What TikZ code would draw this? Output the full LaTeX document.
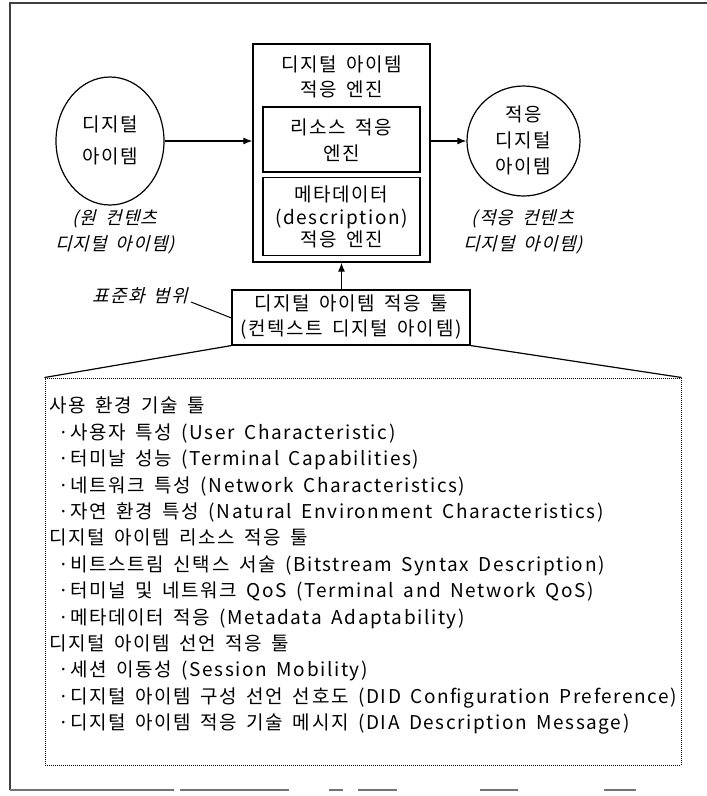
\documentclass[tikz,border=0pt]{standalone}
\usepackage{fontspec}
\usetikzlibrary{shapes.geometric,arrows.meta}
\newfontfamily\kf[LetterSpace=8.5]{Noto Sans CJK KR}
\newfontfamily\kit[FakeSlant=0.25,LetterSpace=6]{Noto Sans CJK KR}
\newcommand\kfs[1]{\kf\fontsize{19}{#1}\selectfont\spaceskip=0.5em\relax}
\newcommand\kits[1]{\kit\fontsize{18}{#1}\selectfont\spaceskip=0.5em\relax}
\tikzset{
  box/.style={draw, line width=1.3pt, inner sep=0pt},
  inbox/.style={draw, line width=1.1pt, inner sep=0pt},
  txt/.style={font=\kfs{25}, align=center, inner sep=0pt},
  captxt/.style={font=\kits{26}, align=center, inner sep=0pt},
  arr/.style={-{Latex[length=9pt,width=7pt]}, line width=1.2pt},
  outline/.style={line width=1.2pt, draw=black!75},
}
\begin{document}
\begin{tikzpicture}[x=1pt,y=-1pt]
\useasboundingbox (0,0) rectangle (707,796);
% outer frame
\draw[outline] (707,3) -- (10,3) -- (10,790);
\foreach \a/\b in {10/56,56/174,180/289,329/343,358/397,480/518,604/636}
  \draw[outline, draw=black!55] (\a,790) -- (\b,790);
% engine
\node[box, minimum width=177pt, minimum height=218pt] (eng) at (341.5,153) {};
\node[txt] (engt) at (341.5,77) {디지털 아이템\\적응 엔진};
\node[inbox, minimum width=157pt, minimum height=65pt] (res) at (341.5,139.5) {};
\node[txt, font=\kfs{26}] (rest) at (341.5,140) {리소스 적응\\엔진};
\node[inbox, minimum width=157pt, minimum height=78pt] (meta) at (341.5,216.5) {};
\node[txt, font=\kfs{22.5}] (metat) at (341.5,217) {메타데이터\\(description)\\적응 엔진};
% source
\node[ellipse, draw, line width=1.2pt, minimum width=108pt, minimum height=128pt, inner sep=0pt] (src) at (110,141) {};
\node[txt, font=\kfs{32}] (srct) at (110,140) {디지털\\아이템};
\node[captxt] (srcc) at (115,232) {(원 컨텐츠\\디지털 아이템)};
% destination
\node[ellipse, draw, line width=1.2pt, minimum width=113pt, minimum height=110pt, inner sep=0pt] (dst) at (523.5,141) {};
\node[txt, font=\kfs{26}] (dstt) at (523.5,140) {적응\\디지털\\아이템};
\node[captxt] (dstc) at (523,232) {(적응 컨텐츠\\디지털 아이템)};
\draw[arr] (src.east) -- (src.east -| eng.west);
\draw[arr] (dst.west -| eng.east) -- (dst.west);
% tool
\node[box, line width=1.1pt, minimum width=238pt, minimum height=55pt] (tool) at (351,317.5) {};
\node[txt] (toolt) at (351,317) {디지털 아이템 적응 툴\\(컨텍스트 디지털 아이템)};
\draw[arr] (tool.north -| eng.south) -- (eng.south);
\node[captxt, anchor=east] (std) at (188,296) {표준화 범위};
\draw[line width=1pt] (std.east) ++(3,6) coordinate (stde) -- (tool.west |- 0,318);
% list
\node[draw, densely dotted, line width=1pt, minimum width=636pt, minimum height=387pt, inner sep=0pt] (lst) at (363,571.5) {};
\draw[line width=1.2pt] (tool.south west) -- (lst.north west);
\draw[line width=1.2pt] (tool.south east) -- (lst.north east);
\node[anchor=north west, align=left, inner sep=0pt, font=\kfs{26.4}] (lstt) at (49,397) {%
사용 환경 기술 툴\\
\hspace*{9pt}·사용자 특성 (User Characteristic)\\
\hspace*{9pt}·터미날 성능 (Terminal Capabilities)\\
\hspace*{9pt}·네트워크 특성 (Network Characteristics)\\
\hspace*{9pt}·자연 환경 특성 (Natural Environment Characteristics)\\
디지털 아이템 리소스 적응 툴\\
\hspace*{9pt}·비트스트림 신택스 서술 (Bitstream Syntax Description)\\
\hspace*{9pt}·터미널 및 네트워크 QoS (Terminal and Network QoS)\\
\hspace*{9pt}·메타데이터 적응 (Metadata Adaptability)\\
디지털 아이템 선언 적응 툴\\
\hspace*{9pt}·세션 이동성 (Session Mobility)\\
\hspace*{9pt}·디지털 아이템 구성 선언 선호도 (DID Configuration Preference)\\
\hspace*{9pt}·디지털 아이템 적응 기술 메시지 (DIA Description Message)};
\end{tikzpicture}
\end{document}
